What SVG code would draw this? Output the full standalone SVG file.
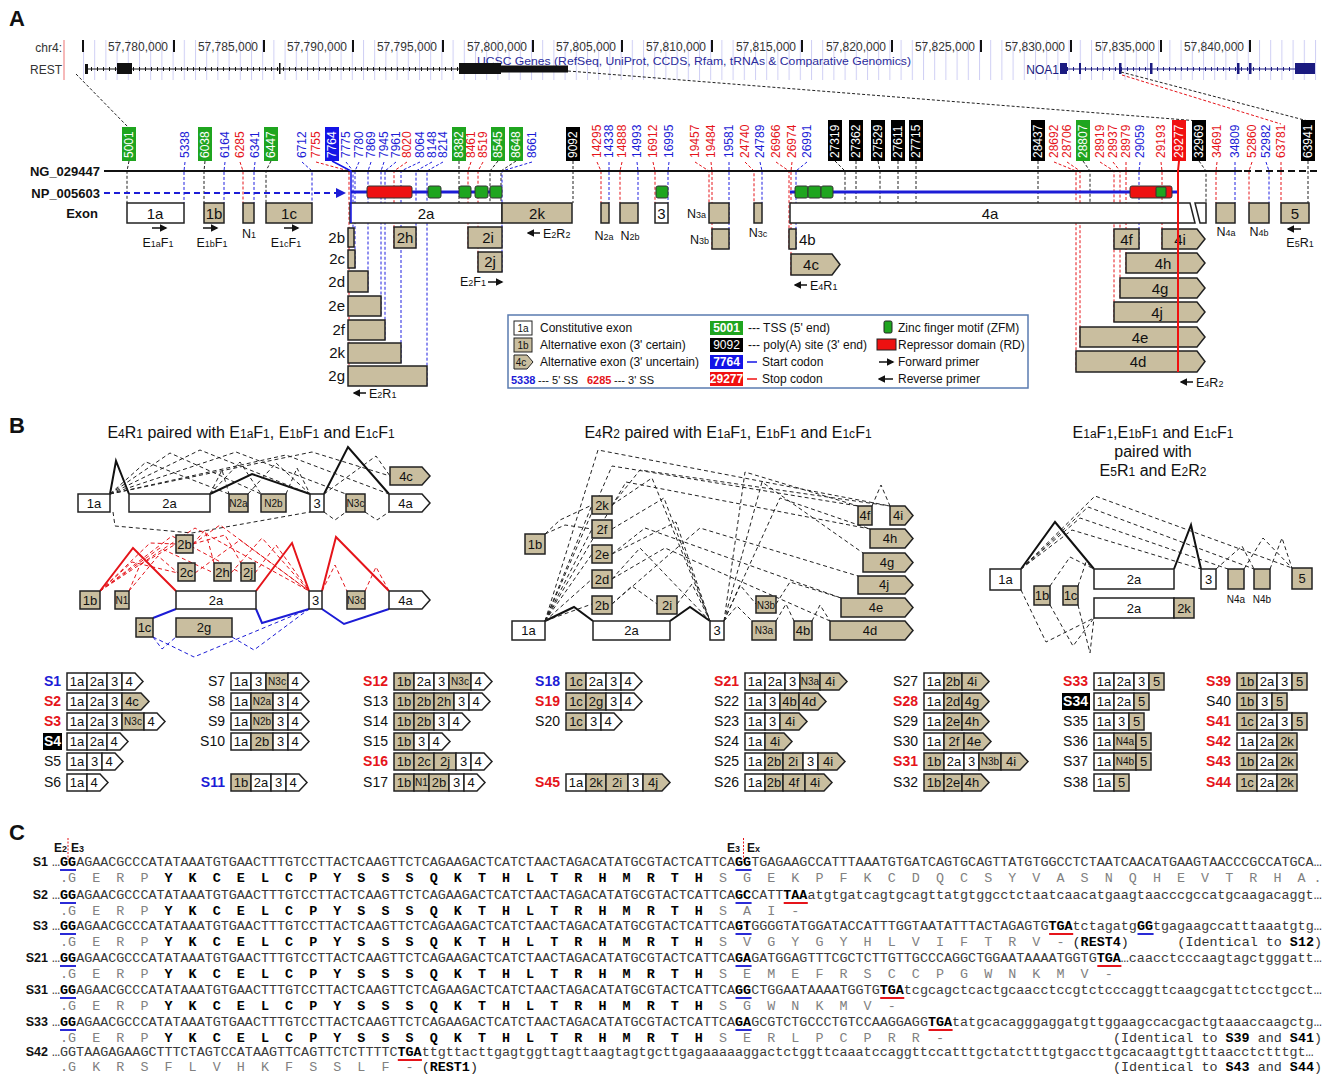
<svg xmlns="http://www.w3.org/2000/svg" width="1330" height="1075" viewBox="0 0 1330 1075">
<defs>
<style>
text{font-family:'Liberation Sans',Arial,sans-serif;fill:#111}
.pl{font-size:22px;font-weight:bold}
.ru{font-size:12px;fill:#333;text-anchor:end}
.n{font-size:12px}
.bl{fill:#1c1cd6}
.rd{fill:#e5141a}
.wt{fill:#fff}
.w{fill:#fff;stroke:#222;stroke-width:1.5}
.t{fill:#c9be9f;stroke:#222;stroke-width:1.5}
.el{font-size:15px;text-anchor:middle}
.ec{font-size:13px;text-anchor:middle}
.en{font-size:10px;text-anchor:middle}
.sm{font-size:9px}
.hd{font-size:13px;font-weight:bold;text-anchor:end}
.lg{font-size:12px}
.pr{font-size:12.5px}
.kd{stroke:#222;stroke-width:1;stroke-dasharray:3 2;fill:none}
.bd{stroke:#2020e0;stroke-width:1;stroke-dasharray:3 2;fill:none}
.rdd{stroke:#e5141a;stroke-width:1;stroke-dasharray:3 2;fill:none}
.ks{stroke:#111;stroke-width:2;fill:none}
.rs{stroke:#e5141a;stroke-width:2;fill:none}
.bs{stroke:#1c1cd6;stroke-width:2;fill:none}
.kd2{stroke:#222;stroke-width:1;stroke-dasharray:4 3;fill:none}
.rd2{stroke:#e5141a;stroke-width:1;stroke-dasharray:4 3;fill:none}
.bd2{stroke:#1c1cd6;stroke-width:1;stroke-dasharray:4 3;fill:none}
.arr{stroke:#111;stroke-width:1.5;fill:none;marker-end:url(#ah)}
.ttl{font-size:16px;text-anchor:middle}
.sl{font-size:14px;text-anchor:end}
.slb{font-size:14px;text-anchor:end;font-weight:bold}
.seq{font-family:'Liberation Mono','Courier New',monospace;font-size:13.4px;fill:#3a3a3a}
.aa{font-family:'Liberation Mono','Courier New',monospace;font-size:13.4px;fill:#808080}
.b{font-weight:bold;fill:#000}
.cl{font-size:12.5px;font-weight:bold;text-anchor:end}
.ubl{stroke:#2a2ad6;stroke-width:2}
.url{stroke:#e5141a;stroke-width:2}
</style>
<marker id="ah" viewBox="0 0 10 10" refX="8" refY="5" markerWidth="5" markerHeight="5" orient="auto"><path d="M0,0 L10,5 L0,10 z" fill="#111"/></marker>
<marker id="ahb" viewBox="0 0 10 10" refX="8" refY="5" markerWidth="5" markerHeight="5" orient="auto"><path d="M0,0 L10,5 L0,10 z" fill="#1c1cd6"/></marker>
<pattern id="grid" x="83" y="0" width="11.2" height="60" patternUnits="userSpaceOnUse"><line x1="0.5" y1="0" x2="0.5" y2="60" stroke="#cfcff4" stroke-width="1"/></pattern>
</defs>
<rect width="1330" height="1075" fill="#fff"/>

<!-- ================= PANEL A ================= -->
<text class="pl" x="9" y="26">A</text>
<g id="browser">
<rect x="80" y="40" width="1240" height="40" fill="url(#grid)"/>
<line x1="64" y1="40" x2="64" y2="80" stroke="#f08a8a" stroke-width="1.2"/>
<text class="ru" x="62" y="52">chr4:</text>
<text class="ru" x="62" y="74">REST</text>
<g fill="#111">
<rect x="82" y="40" width="2" height="12"/>
<rect x="173" y="40" width="2" height="12"/><rect x="263" y="40" width="2" height="12"/><rect x="352" y="40" width="2" height="12"/><rect x="442" y="40" width="2" height="12"/><rect x="532" y="40" width="2" height="12"/><rect x="621" y="40" width="2" height="12"/><rect x="711" y="40" width="2" height="12"/><rect x="801" y="40" width="2" height="12"/><rect x="891" y="40" width="2" height="12"/><rect x="980" y="40" width="2" height="12"/><rect x="1070" y="40" width="2" height="12"/><rect x="1160" y="40" width="2" height="12"/><rect x="1249" y="40" width="2" height="12"/>
</g>
<text class="ru" x="168" y="51">57,780,000</text>
<text class="ru" x="258" y="51">57,785,000</text>
<text class="ru" x="347" y="51">57,790,000</text>
<text class="ru" x="437" y="51">57,795,000</text>
<text class="ru" x="527" y="51">57,800,000</text>
<text class="ru" x="616" y="51">57,805,000</text>
<text class="ru" x="706" y="51">57,810,000</text>
<text class="ru" x="796" y="51">57,815,000</text>
<text class="ru" x="886" y="51">57,820,000</text>
<text class="ru" x="975" y="51">57,825,000</text>
<text class="ru" x="1065" y="51">57,830,000</text>
<text class="ru" x="1155" y="51">57,835,000</text>
<text class="ru" x="1244" y="51">57,840,000</text>
<text x="477" y="64.5" font-size="11.5" style="fill:#2c2c9c" textLength="434" lengthAdjust="spacingAndGlyphs">UCSC Genes (RefSeq, UniProt, CCDS, Rfam, tRNAs &amp; Comparative Genomics)</text>
<g id="rest-track">
<line x1="85" y1="69" x2="568" y2="69" stroke="#111" stroke-width="1"/>
<line x1="85" y1="69" x2="459" y2="69" stroke="#111" stroke-width="4" stroke-dasharray="1 5"/>
<rect x="85" y="64" width="3" height="10" fill="#111"/>
<rect x="117" y="63" width="15" height="11" fill="#111"/>
<rect x="279" y="63" width="1.5" height="11" fill="#111"/>
<rect x="459" y="63" width="42" height="11" fill="#111"/>
<rect x="501" y="65.5" width="67" height="7" fill="#111"/>
</g>
<g id="noa1-track">
<text x="1059" y="74" font-size="12" text-anchor="end" style="fill:#1a1a80">NOA1</text>
<line x1="1061" y1="69" x2="1315" y2="69" stroke="#1a1a80" stroke-width="1"/>
<line x1="1061" y1="69" x2="1295" y2="69" stroke="#1a1a80" stroke-width="4" stroke-dasharray="1 5"/>
<rect x="1060" y="63" width="7" height="11" fill="#1a1a80"/>
<rect x="1079" y="63" width="2" height="11" fill="#1a1a80"/>
<rect x="1119" y="63" width="2.5" height="11" fill="#1a1a80"/>
<rect x="1150" y="63" width="2.5" height="11" fill="#1a1a80"/>
<rect x="1237" y="63" width="2.5" height="11" fill="#1a1a80"/>
<rect x="1249" y="63" width="2.5" height="11" fill="#1a1a80"/>
<rect x="1295" y="63" width="20" height="11" fill="#1a1a80"/>
</g>
</g>

<g id="connectors-A">
<path class="kd" d="M76,74 L128,127"/>
<path class="kd" d="M568,71 L1199,121"/>
<path class="kd" d="M1121,72 L1308,121"/>
<path class="rdd" d="M1122,75 L1281,124"/>
<path class="kd" d="M129,161 L127,171 V203 M205,161 L204,171 V203 M271,161 L266,171 V203 M459,161 V203 M498,161 L490,171 V203 M516,161 L501,171 V203 M1083,161 L1090,171 V203 M573,161 V203 M835,161 L845,171 V203 M856,161 V203 M878,161 L880,171 V203 M898,161 V203 M916,161 V203 M1038,161 V203 M1199,161 L1206,171 V203 M1308,161 V203"/>
<path class="bd" d="M185,162 L184,171 V203 M225,162 L224,171 V203 M255,162 L254,171 V203 M302,162 L312,171 V203 M346,162 L353,171 V247 M359,162 L355,171 V268 M371,162 L368,171 V292 M384,162 L381,171 V316 M396,162 L385,171 V340 M420,162 L401,171 V363 M432,162 L416,171 V248 M443,162 L427,171 V386 M532,162 L502,171 V272 M609,162 V203 M637,162 L638,171 V203 M669,162 L668,171 V203 M729,162 V249 M760,162 L762,171 V203 M807,162 L796,171 V249 M1140,162 L1139,171 V249 M1235,162 V203 M1266,162 L1269,171 V203"/>
<path class="rdd" d="M240,162 L243,171 V203 M316,162 L349,171 V386 M407,162 L394,171 V248 M471,162 L468,171 V248 M483,162 L478,171 V272 M597,162 L601,171 V203 M622,162 L620,171 V203 M653,162 L655,171 V203 M695,162 L709,171 V203 M711,162 L712,171 V249 M745,162 L754,171 V203 M776,162 L789,171 V249 M792,162 L791,171 V275 M1054,162 L1076,171 V372 M1067,162 L1080,171 V347 M1100,162 L1114,171 V322 M1113,162 L1120,171 V298 M1126,162 V273 M1161,162 L1162,171 V249 M1217,162 L1216,171 V203 M1252,162 L1249,171 V203 M1281,162 V203"/>
</g>

<g id="labels-A">
<g fill="#1fa51f">
<rect x="122" y="127" width="14" height="34"/><rect x="198" y="127" width="14" height="34"/><rect x="264" y="127" width="14" height="34"/><rect x="452" y="127" width="14" height="34"/><rect x="491" y="127" width="14" height="34"/><rect x="509" y="127" width="14" height="34"/><rect x="1076" y="120" width="14" height="41"/>
</g>
<g fill="#000">
<rect x="566" y="127" width="14" height="34"/><rect x="828" y="120" width="14" height="41"/><rect x="849" y="120" width="14" height="41"/><rect x="871" y="120" width="14" height="41"/><rect x="891" y="120" width="14" height="41"/><rect x="909" y="120" width="14" height="41"/><rect x="1031" y="120" width="14" height="41"/><rect x="1192" y="120" width="14" height="41"/><rect x="1301" y="120" width="14" height="41"/>
</g>
<rect x="325" y="127" width="14" height="34" fill="#1414e6"/>
<rect x="1172" y="120" width="14" height="41" fill="#f01010"/>
<g class="n">
<text class="wt" transform="translate(129,158) rotate(-90)" dy="4">5001</text>
<text class="wt" transform="translate(205,158) rotate(-90)" dy="4">6038</text>
<text class="wt" transform="translate(271,158) rotate(-90)" dy="4">6447</text>
<text class="wt" transform="translate(459,158) rotate(-90)" dy="4">8382</text>
<text class="wt" transform="translate(498,158) rotate(-90)" dy="4">8545</text>
<text class="wt" transform="translate(516,158) rotate(-90)" dy="4">8648</text>
<text class="wt" transform="translate(1083,158) rotate(-90)" dy="4">28807</text>
<text class="wt" transform="translate(573,158) rotate(-90)" dy="4">9092</text>
<text class="wt" transform="translate(835,158) rotate(-90)" dy="4">27319</text>
<text class="wt" transform="translate(856,158) rotate(-90)" dy="4">27362</text>
<text class="wt" transform="translate(878,158) rotate(-90)" dy="4">27529</text>
<text class="wt" transform="translate(898,158) rotate(-90)" dy="4">27611</text>
<text class="wt" transform="translate(916,158) rotate(-90)" dy="4">27715</text>
<text class="wt" transform="translate(1038,158) rotate(-90)" dy="4">28437</text>
<text class="wt" transform="translate(1199,158) rotate(-90)" dy="4">32969</text>
<text class="wt" transform="translate(1308,158) rotate(-90)" dy="4">63941</text>
<text class="wt" transform="translate(332,158) rotate(-90)" dy="4">7764</text>
<text class="wt" transform="translate(1179,158) rotate(-90)" dy="4">29277</text>
<text class="bl" transform="translate(185,158) rotate(-90)" dy="4">5338</text>
<text class="bl" transform="translate(225,158) rotate(-90)" dy="4">6164</text>
<text class="bl" transform="translate(255,158) rotate(-90)" dy="4">6341</text>
<text class="bl" transform="translate(302,158) rotate(-90)" dy="4">6712</text>
<text class="bl" transform="translate(346,158) rotate(-90)" dy="4">7775</text>
<text class="bl" transform="translate(359,158) rotate(-90)" dy="4">7780</text>
<text class="bl" transform="translate(371,158) rotate(-90)" dy="4">7869</text>
<text class="bl" transform="translate(384,158) rotate(-90)" dy="4">7945</text>
<text class="bl" transform="translate(396,158) rotate(-90)" dy="4">7961</text>
<text class="bl" transform="translate(420,158) rotate(-90)" dy="4">8064</text>
<text class="bl" transform="translate(432,158) rotate(-90)" dy="4">8148</text>
<text class="bl" transform="translate(443,158) rotate(-90)" dy="4">8214</text>
<text class="bl" transform="translate(532,158) rotate(-90)" dy="4">8661</text>
<text class="bl" transform="translate(609,158) rotate(-90)" dy="4">14338</text>
<text class="bl" transform="translate(637,158) rotate(-90)" dy="4">14993</text>
<text class="bl" transform="translate(669,158) rotate(-90)" dy="4">16995</text>
<text class="bl" transform="translate(729,158) rotate(-90)" dy="4">19581</text>
<text class="bl" transform="translate(760,158) rotate(-90)" dy="4">24789</text>
<text class="bl" transform="translate(807,158) rotate(-90)" dy="4">26991</text>
<text class="bl" transform="translate(1140,158) rotate(-90)" dy="4">29059</text>
<text class="bl" transform="translate(1235,158) rotate(-90)" dy="4">34809</text>
<text class="bl" transform="translate(1266,158) rotate(-90)" dy="4">52982</text>
<text class="rd" transform="translate(240,158) rotate(-90)" dy="4">6285</text>
<text class="rd" transform="translate(316,158) rotate(-90)" dy="4">7755</text>
<text class="rd" transform="translate(407,158) rotate(-90)" dy="4">8020</text>
<text class="rd" transform="translate(471,158) rotate(-90)" dy="4">8461</text>
<text class="rd" transform="translate(483,158) rotate(-90)" dy="4">8519</text>
<text class="rd" transform="translate(597,158) rotate(-90)" dy="4">14295</text>
<text class="rd" transform="translate(622,158) rotate(-90)" dy="4">14888</text>
<text class="rd" transform="translate(653,158) rotate(-90)" dy="4">16912</text>
<text class="rd" transform="translate(695,158) rotate(-90)" dy="4">19457</text>
<text class="rd" transform="translate(711,158) rotate(-90)" dy="4">19484</text>
<text class="rd" transform="translate(745,158) rotate(-90)" dy="4">24740</text>
<text class="rd" transform="translate(776,158) rotate(-90)" dy="4">26966</text>
<text class="rd" transform="translate(792,158) rotate(-90)" dy="4">26974</text>
<text class="rd" transform="translate(1054,158) rotate(-90)" dy="4">28692</text>
<text class="rd" transform="translate(1067,158) rotate(-90)" dy="4">28706</text>
<text class="rd" transform="translate(1100,158) rotate(-90)" dy="4">28919</text>
<text class="rd" transform="translate(1113,158) rotate(-90)" dy="4">28937</text>
<text class="rd" transform="translate(1126,158) rotate(-90)" dy="4">28979</text>
<text class="rd" transform="translate(1161,158) rotate(-90)" dy="4">29193</text>
<text class="rd" transform="translate(1217,158) rotate(-90)" dy="4">34691</text>
<text class="rd" transform="translate(1252,158) rotate(-90)" dy="4">52860</text>
<text class="rd" transform="translate(1281,158) rotate(-90)" dy="4">63781</text>
</g>
</g>

<g id="ng-line">
<text class="hd" x="100" y="176">NG_029447</text>
<line x1="104" y1="171" x2="1242" y2="171" stroke="#111" stroke-width="2"/>
<line x1="1244" y1="171" x2="1320" y2="171" stroke="#111" stroke-width="2" stroke-dasharray="7 4"/>
</g>
<g id="np-line">
<text class="hd" x="100" y="198">NP_005603</text>
<line x1="104" y1="193" x2="344" y2="193" stroke="#1c1cd6" stroke-width="2" stroke-dasharray="6 4" marker-end="url(#ahb)"/>
<line x1="351" y1="192" x2="502" y2="192" stroke="#1c1cd6" stroke-width="3"/>
<line x1="790" y1="192" x2="1178" y2="192" stroke="#1c1cd6" stroke-width="3"/>
<g stroke="#333" stroke-width="1">
<rect x="367" y="186" width="45" height="12" rx="2" fill="#ee1111"/>
<rect x="428" y="186" width="13" height="12" rx="2" fill="#1fa51f"/>
<rect x="459" y="186" width="12" height="12" rx="2" fill="#1fa51f"/>
<rect x="475" y="186" width="13" height="12" rx="2" fill="#1fa51f"/>
<rect x="490" y="186" width="12" height="12" rx="2" fill="#1fa51f"/>
<rect x="656" y="186" width="12" height="12" rx="2" fill="#1fa51f"/>
<rect x="795" y="186" width="13" height="12" rx="2" fill="#1fa51f"/>
<rect x="808" y="186" width="13" height="12" rx="2" fill="#1fa51f"/>
<rect x="821" y="186" width="12" height="12" rx="2" fill="#1fa51f"/>
<rect x="1130" y="186" width="42" height="12" rx="2" fill="#ee1111"/>
<rect x="1156" y="187" width="10" height="10" rx="1" fill="#1fa51f"/>
</g>
</g>

<g id="exons-A">
<text class="hd" x="98" y="218">Exon</text>
<g id="e1a"><rect class="w" x="127" y="203" width="57" height="20"/><text class="el" x="155" y="219">1a</text></g>
<g id="e1b"><rect class="t" x="204" y="203" width="20" height="20"/><text class="el" x="214" y="219">1b</text></g>
<g id="eN1"><rect class="t" x="243" y="203" width="11" height="20"/></g>
<g id="e1c"><rect class="t" x="266" y="203" width="46" height="20"/><text class="el" x="289" y="219">1c</text></g>
<g id="e2a"><rect class="w" x="350" y="203" width="152" height="20"/><text class="el" x="426" y="219">2a</text></g>
<g id="e2k"><rect class="t" x="502" y="203" width="70" height="20"/><text class="el" x="537" y="219">2k</text></g>
<g id="eN2a"><rect class="t" x="601" y="203" width="8" height="20"/></g>
<g id="eN2b"><rect class="t" x="620" y="203" width="18" height="20"/></g>
<g id="e3"><rect class="w" x="655" y="203" width="13" height="20"/><text class="el" x="661.5" y="219">3</text></g>
<g id="eN3a"><rect class="t" x="709" y="203" width="20" height="20"/><text class="pr" x="706" y="218" text-anchor="end">N<tspan class="sm">3a</tspan></text></g>
<g id="eN3c"><rect class="t" x="754" y="203" width="8" height="20"/></g>
<g id="e4a"><path class="w" d="M790,203 H1190 L1195,223 H790 Z"/><path class="w" d="M1195,203 H1206 V223 H1200 Z"/><text class="el" x="990" y="219">4a</text></g>
<g id="eN4a"><rect class="t" x="1216" y="203" width="19" height="20"/></g>
<g id="eN4b"><rect class="t" x="1249" y="203" width="20" height="20"/></g>
<g id="e5"><rect class="t" x="1281" y="203" width="28" height="20"/><text class="el" x="1295" y="219">5</text></g>

<g id="e2b"><rect class="t" x="348" y="228" width="6" height="19"/><text class="el" x="345" y="243" style="text-anchor:end">2b</text></g>
<g id="e2c"><rect class="t" x="348" y="250" width="7" height="18"/><text class="el" x="345" y="264" style="text-anchor:end">2c</text></g>
<g id="e2d"><rect class="t" x="348" y="271" width="20" height="21"/><text class="el" x="345" y="287" style="text-anchor:end">2d</text></g>
<g id="e2e"><rect class="t" x="348" y="296" width="33" height="20"/><text class="el" x="345" y="311" style="text-anchor:end">2e</text></g>
<g id="e2f"><rect class="t" x="348" y="320" width="37" height="20"/><text class="el" x="345" y="335" style="text-anchor:end">2f</text></g>
<g id="e2k2"><rect class="t" x="348" y="343" width="53" height="20"/><text class="el" x="345" y="358" style="text-anchor:end">2k</text></g>
<g id="e2g"><rect class="t" x="348" y="366" width="79" height="20"/><text class="el" x="345" y="381" style="text-anchor:end">2g</text></g>
<g id="e2h"><rect class="t" x="394" y="227" width="22" height="21"/><text class="el" x="405" y="243">2h</text></g>
<g id="e2i"><rect class="t" x="468" y="227" width="34" height="21"/><text class="el" x="488" y="243">2i</text></g>
<g id="e2j"><rect class="t" x="478" y="252" width="24" height="20"/><text class="el" x="490" y="267">2j</text></g>
<g id="eN3b"><rect class="t" x="712" y="229" width="17" height="20"/><text class="pr" x="709" y="244" text-anchor="end">N<tspan class="sm">3b</tspan></text></g>
<g id="e4b"><rect class="t" x="789" y="229" width="7" height="20"/><text class="el" x="799" y="245" style="text-anchor:start">4b</text></g>
<g id="e4c"><path class="t" d="M791,254 H832 L840,264.5 L832,275 H791 Z"/><text class="el" x="811" y="270">4c</text></g>
<g id="e4f"><rect class="t" x="1114" y="229" width="25" height="20"/><text class="el" x="1126.5" y="245">4f</text></g>
<g id="e4i"><path class="t" d="M1162,229 H1197 L1205,239 L1197,249 H1162 Z"/><text class="el" x="1180" y="245">4i</text></g>
<g id="e4h"><path class="t" d="M1126,253 H1197 L1205,263 L1197,273 H1126 Z"/><text class="el" x="1163" y="269">4h</text></g>
<g id="e4g"><path class="t" d="M1120,278 H1197 L1205,288 L1197,298 H1120 Z"/><text class="el" x="1160" y="294">4g</text></g>
<g id="e4j"><path class="t" d="M1114,302 H1197 L1205,312 L1197,322 H1114 Z"/><text class="el" x="1157" y="318">4j</text></g>
<g id="e4e"><path class="t" d="M1080,327 H1197 L1205,337 L1197,347 H1080 Z"/><text class="el" x="1140" y="343">4e</text></g>
<g id="e4d"><path class="t" d="M1076,351 H1197 L1205,361.5 L1197,372 H1076 Z"/><text class="el" x="1138" y="367">4d</text></g>
</g>

<g id="connectors-A-top">
<path d="M332,161 L351,171 V223" stroke="#1414e6" stroke-width="1.5" fill="none"/>
<path d="M1179,161 L1178,171 V372" stroke="#f01010" stroke-width="2" fill="none"/>
</g>

<g id="primers-A">
<text class="pr" x="249" y="238" text-anchor="middle">N<tspan class="sm">1</tspan></text>
<text class="pr" x="604" y="240" text-anchor="middle">N<tspan class="sm">2a</tspan></text>
<text class="pr" x="630" y="240" text-anchor="middle">N<tspan class="sm">2b</tspan></text>
<text class="pr" x="758" y="237" text-anchor="middle">N<tspan class="sm">3c</tspan></text>
<text class="pr" x="1226" y="236" text-anchor="middle">N<tspan class="sm">4a</tspan></text>
<text class="pr" x="1259" y="236" text-anchor="middle">N<tspan class="sm">4b</tspan></text>
<path class="arr" d="M152,228 H166"/><text class="pr" x="158" y="247" text-anchor="middle">E<tspan class="sm">1a</tspan>F<tspan class="sm">1</tspan></text>
<path class="arr" d="M203,228 H217"/><text class="pr" x="212" y="247" text-anchor="middle">E<tspan class="sm">1b</tspan>F<tspan class="sm">1</tspan></text>
<path class="arr" d="M284,228 H298"/><text class="pr" x="286" y="247" text-anchor="middle">E<tspan class="sm">1c</tspan>F<tspan class="sm">1</tspan></text>
<path class="arr" d="M366,393 H354"/><text class="pr" x="369" y="398">E<tspan class="sm">2</tspan>R<tspan class="sm">1</tspan></text>
<text class="pr" x="460" y="286">E<tspan class="sm">2</tspan>F<tspan class="sm">1</tspan></text><path class="arr" d="M488,282 H502"/>
<path class="arr" d="M540,233 H528"/><text class="pr" x="543" y="238">E<tspan class="sm">2</tspan>R<tspan class="sm">2</tspan></text>
<path class="arr" d="M807,285 H795"/><text class="pr" x="810" y="290">E<tspan class="sm">4</tspan>R<tspan class="sm">1</tspan></text>
<path class="arr" d="M1193,382 H1181"/><text class="pr" x="1196" y="387">E<tspan class="sm">4</tspan>R<tspan class="sm">2</tspan></text>
<path class="arr" d="M1301,229 H1288"/><text class="pr" x="1300" y="247" text-anchor="middle">E<tspan class="sm">5</tspan>R<tspan class="sm">1</tspan></text>
</g>

<g id="legend">
<rect x="508" y="315" width="520" height="73" fill="#fff" stroke="#5a7bb0" stroke-width="1.5"/>
<rect class="w" x="514" y="321" width="18" height="14" style="stroke-width:1"/><text class="en" x="523" y="332">1a</text><text class="lg" x="540" y="332">Constitutive exon</text>
<rect class="t" x="514" y="338" width="18" height="14" style="stroke-width:1"/><text class="en" x="523" y="349">1b</text><text class="lg" x="540" y="349">Alternative exon (3' certain)</text>
<path class="t" d="M514,355 H527 L533,362 L527,369 H514 Z" style="stroke-width:1"/><text class="en" x="521" y="366">4c</text><text class="lg" x="540" y="366">Alternative exon (3' uncertain)</text>
<text x="511" y="384" font-size="11" font-weight="bold" style="fill:#1c1cd6">5338</text><text x="538" y="384" font-size="11">--- 5' SS</text>
<text x="587" y="384" font-size="11" font-weight="bold" style="fill:#e5141a">6285</text><text x="614" y="384" font-size="11">--- 3' SS</text>
<rect x="710" y="321" width="33" height="14" fill="#1fa51f"/><text class="lg" x="726.5" y="332" text-anchor="middle" font-weight="bold" style="fill:#fff">5001</text><text class="lg" x="748" y="332">--- TSS (5' end)</text>
<rect x="710" y="338" width="33" height="14" fill="#000"/><text class="lg" x="726.5" y="349" text-anchor="middle" style="fill:#fff">9092</text><text class="lg" x="748" y="349">--- poly(A) site (3' end)</text>
<rect x="710" y="355" width="33" height="14" fill="#1414e6"/><text class="lg" x="726.5" y="366" text-anchor="middle" font-weight="bold" style="fill:#fff">7764</text><line x1="747" y1="362" x2="757" y2="362" stroke="#1414e6" stroke-width="1.5"/><text class="lg" x="762" y="366">Start codon</text>
<rect x="710" y="372" width="33" height="14" fill="#f01010"/><text class="lg" x="726.5" y="383" text-anchor="middle" font-weight="bold" style="fill:#fff">29277</text><line x1="747" y1="379" x2="757" y2="379" stroke="#f01010" stroke-width="1.5"/><text class="lg" x="762" y="383">Stop codon</text>
<rect x="884" y="321" width="8" height="12" rx="1.5" fill="#1fa51f" stroke="#222" stroke-width="1"/><text class="lg" x="898" y="332">Zinc finger motif (ZFM)</text>
<rect x="877" y="339" width="19" height="11" fill="#ee1111" stroke="#222" stroke-width="1"/><text class="lg" x="898" y="349">Repressor domain (RD)</text>
<path class="arr" d="M879,362 H893"/><text class="lg" x="898" y="366">Forward primer</text>
<path class="arr" d="M893,379 H879"/><text class="lg" x="898" y="383">Reverse primer</text>
</g>

<!-- ================= PANEL B ================= -->
<text class="pl" x="9" y="433">B</text>
<text class="ttl" x="251" y="438">E<tspan font-size="12">4</tspan>R<tspan font-size="12">1</tspan> paired with E<tspan font-size="12">1a</tspan>F<tspan font-size="12">1</tspan>, E<tspan font-size="12">1b</tspan>F<tspan font-size="12">1</tspan> and E<tspan font-size="12">1c</tspan>F<tspan font-size="12">1</tspan></text>
<text class="ttl" x="728" y="438">E<tspan font-size="12">4</tspan>R<tspan font-size="12">2</tspan> paired with E<tspan font-size="12">1a</tspan>F<tspan font-size="12">1</tspan>, E<tspan font-size="12">1b</tspan>F<tspan font-size="12">1</tspan> and E<tspan font-size="12">1c</tspan>F<tspan font-size="12">1</tspan></text>
<text class="ttl" x="1153" y="438">E<tspan font-size="12">1a</tspan>F<tspan font-size="12">1</tspan>,E<tspan font-size="12">1b</tspan>F<tspan font-size="12">1</tspan> and E<tspan font-size="12">1c</tspan>F<tspan font-size="12">1</tspan></text>
<text class="ttl" x="1153" y="457">paired with</text>
<text class="ttl" x="1153" y="476">E<tspan font-size="12">5</tspan>R<tspan font-size="12">1</tspan> and E<tspan font-size="12">2</tspan>R<tspan font-size="12">2</tspan></text>

<g id="connectors-B">
<path class="ks" d="M110,494 L116,461 L129,494 M210,494 L252,474 L310,494 M324,494 L348,447 L389,494"/>
<path class="kd2" d="M110,494 L146,462 L229,494 M110,494 L170,453 L261,494 M110,494 L200,450 L310,494 M110,494 L236,452 L346,494 M110,494 L286,455 L389,494 M110,494 L312,452 L390,476 M248,494 L276,463 L310,494 M286,494 L297,468 L310,494 M210,494 L222,470 L229,494 M210,494 L240,462 L261,494 M324,494 L376,456 L390,476 M324,512 L335,520 L346,512 M365,512 L377,520 L389,512 M113,512 L115,526 L192,533 L310,512"/>
<path class="rs" d="M100,591 L133,548 L176,591 M256,591 L292,543 L309,591 M322,591 L336,537 L389,591"/>
<path class="rd2" d="M100,591 L132,562 L178,573 M100,591 L160,548 L214,573 M100,591 L172,536 L241,573 M100,591 L150,543 L176,544 M100,591 L195,528 L309,591 M129,591 L140,565 L176,544 M129,591 L158,556 L178,573 M193,544 L220,525 L309,591 M195,573 L240,540 L309,591 M231,573 L262,538 L309,591 M255,573 L276,545 L309,591 M193,544 L205,530 L214,563 M193,544 L225,535 L241,563 M322,591 L335,565 L347,591 M365,591 L376,567 L389,591"/>
<path class="bs" d="M153,618 L176,609 M256,609 L262,623 L309,609 M322,609 L344,624 L389,609"/>
<path class="bd2" d="M153,637 L162,649 L176,637 M153,637 L194,657 L309,609 M232,637 L254,650 L309,609"/>
<path class="ks" d="M545,621 L574,607 L593,621 M670,621 L690,607 L710,621"/>
<path class="kd2" d="M545,621 L598,450 L890,506 M545,621 L612,466 L858,506 M545,621 L626,482 L870,529 M545,621 L592,505 M545,621 L592,529 M545,621 L592,554 M545,621 L592,579 M545,621 L592,604 M545,534 L560,520 L592,505 M545,534 L565,525 L592,529 M612,505 L652,478 L710,621 M612,529 L664,498 L710,621 M612,554 L676,522 L710,621 M612,579 L640,548 L710,621 M612,604 L632,586 L657,604 M677,604 L692,584 L710,621 M612,604 L700,528 L858,576 M612,554 L645,528 L841,598 M612,579 L665,548 L830,621 M724,621 L745,472 L858,506 M724,621 L762,482 L863,553 M724,621 L780,498 L870,529 M724,621 L740,585 L756,604 M724,621 L737,606 L752,621 M776,604 L790,582 L841,598 M776,621 L786,604 L794,621 M812,621 L820,605 L830,621 M872,506 L881,485 L890,506 M612,505 L640,470 L890,506"/>
<path class="ks" d="M1021,569 L1055,522 L1094,569 M1174,569 L1191,525 L1201,569"/>
<path class="kd2" d="M1021,569 L1095,496 L1292,568 M1021,569 L1088,507 L1254,569 M1021,569 L1080,518 L1228,569 M1021,569 L1072,530 L1201,569 M1216,569 L1242,546 L1254,569 M1244,569 L1263,538 L1292,568 M1270,569 L1282,538 L1292,568 M1021,590 L1046,642 L1094,618 M1050,586 L1070,557 L1094,569 M1078,586 L1086,562 L1094,569 M1050,605 L1073,646 L1094,618 M1078,605 L1090,653 L1094,618"/>
</g>

<g id="nodes-B1">
<g><rect class="w" x="78" y="494" width="32" height="18"/><text class="ec" x="94" y="508">1a</text></g>
<g><rect class="w" x="129" y="494" width="81" height="18"/><text class="ec" x="169.5" y="508">2a</text></g>
<g><rect class="t" x="229" y="494" width="19" height="18"/><text class="en" x="238.5" y="507">N2a</text></g>
<g><rect class="t" x="261" y="494" width="25" height="18"/><text class="en" x="273.5" y="507">N2b</text></g>
<g><rect class="w" x="310" y="494" width="14" height="18"/><text class="ec" x="317" y="508">3</text></g>
<g><rect class="t" x="346" y="494" width="19" height="18"/><text class="en" x="355.5" y="507">N3c</text></g>
<g><path class="w" d="M389,494 H422 L430,503 L422,512 H389 Z"/><text class="ec" x="405.5" y="508">4a</text></g>
<g><path class="t" d="M390,467 H422 L430,476 L422,485 H390 Z"/><text class="ec" x="406" y="481">4c</text></g>
<g><rect class="t" x="80" y="591" width="20" height="18"/><text class="ec" x="90" y="605">1b</text></g>
<g><rect class="t" x="115" y="591" width="14" height="18"/><text class="en" x="122" y="604">N1</text></g>
<g><rect class="w" x="176" y="591" width="80" height="18"/><text class="ec" x="216" y="605">2a</text></g>
<g><rect class="w" x="309" y="591" width="13" height="18"/><text class="ec" x="315.5" y="605">3</text></g>
<g><rect class="t" x="347" y="591" width="18" height="18"/><text class="en" x="356" y="604">N3c</text></g>
<g><path class="w" d="M389,591 H422 L430,600 L422,609 H389 Z"/><text class="ec" x="405.5" y="605">4a</text></g>
<g><rect class="t" x="176" y="535" width="17" height="18"/><text class="ec" x="184.5" y="549">2b</text></g>
<g><rect class="t" x="178" y="563" width="17" height="18"/><text class="ec" x="186.5" y="577">2c</text></g>
<g><rect class="t" x="214" y="563" width="17" height="18"/><text class="ec" x="222.5" y="577">2h</text></g>
<g><rect class="t" x="241" y="563" width="14" height="18"/><text class="ec" x="248" y="577">2j</text></g>
<g><rect class="t" x="136" y="618" width="17" height="19"/><text class="ec" x="144.5" y="632">1c</text></g>
<g><rect class="t" x="176" y="618" width="56" height="19"/><text class="ec" x="204" y="632">2g</text></g>
</g>

<g id="nodes-B2">
<g><rect class="t" x="525" y="534" width="20" height="20"/><text class="ec" x="535" y="549">1b</text></g>
<g><rect class="w" x="512" y="621" width="33" height="19"/><text class="ec" x="528.5" y="635">1a</text></g>
<g><rect class="t" x="592" y="496" width="20" height="18"/><text class="ec" x="602" y="510">2k</text></g>
<g><rect class="t" x="592" y="520" width="20" height="18"/><text class="ec" x="602" y="534">2f</text></g>
<g><rect class="t" x="592" y="545" width="20" height="18"/><text class="ec" x="602" y="559">2e</text></g>
<g><rect class="t" x="592" y="570" width="20" height="18"/><text class="ec" x="602" y="584">2d</text></g>
<g><rect class="t" x="592" y="596" width="20" height="18"/><text class="ec" x="602" y="610">2b</text></g>
<g><rect class="w" x="593" y="621" width="77" height="19"/><text class="ec" x="631.5" y="635">2a</text></g>
<g><rect class="t" x="657" y="596" width="20" height="18"/><text class="ec" x="667" y="610">2i</text></g>
<g><rect class="w" x="710" y="621" width="14" height="19"/><text class="ec" x="717" y="635">3</text></g>
<g><rect class="t" x="756" y="596" width="20" height="17"/><text class="en" x="766" y="609">N3b</text></g>
<g><rect class="t" x="752" y="621" width="24" height="19"/><text class="en" x="764" y="634">N3a</text></g>
<g><rect class="t" x="794" y="621" width="18" height="19"/><text class="ec" x="803" y="635">4b</text></g>
<g><rect class="t" x="858" y="506" width="14" height="19"/><text class="ec" x="865" y="520">4f</text></g>
<g><path class="t" d="M890,506 H905 L913,515.5 L905,525 H890 Z"/><text class="ec" x="898" y="520">4i</text></g>
<g><path class="t" d="M870,529 H905 L913,538.5 L905,548 H870 Z"/><text class="ec" x="890" y="543">4h</text></g>
<g><path class="t" d="M863,553 H905 L913,562.5 L905,572 H863 Z"/><text class="ec" x="887" y="567">4g</text></g>
<g><path class="t" d="M858,576 H905 L913,585 L905,594 H858 Z"/><text class="ec" x="884" y="589">4j</text></g>
<g><path class="t" d="M841,598 H905 L913,607.5 L905,617 H841 Z"/><text class="ec" x="876" y="612">4e</text></g>
<g><path class="t" d="M830,621 H905 L913,630.5 L905,640 H830 Z"/><text class="ec" x="870" y="635">4d</text></g>
</g>

<g id="nodes-B3">
<g><rect class="w" x="990" y="569" width="31" height="21"/><text class="ec" x="1005.5" y="584">1a</text></g>
<g><rect class="t" x="1034" y="586" width="16" height="19"/><text class="ec" x="1042" y="600">1b</text></g>
<g><rect class="t" x="1063" y="586" width="15" height="19"/><text class="ec" x="1070.5" y="600">1c</text></g>
<g><rect class="w" x="1094" y="569" width="80" height="20"/><text class="ec" x="1134" y="584">2a</text></g>
<g><rect class="w" x="1094" y="598" width="80" height="20"/><text class="ec" x="1134" y="613">2a</text><rect class="t" x="1174" y="598" width="20" height="20"/><text class="ec" x="1184" y="613">2k</text></g>
<g><rect class="w" x="1201" y="569" width="15" height="20"/><text class="ec" x="1208.5" y="584">3</text></g>
<g><rect class="t" x="1228" y="569" width="16" height="20"/><text class="en" x="1236" y="603">N4a</text></g>
<g><rect class="t" x="1254" y="569" width="16" height="20"/><text class="en" x="1262" y="603">N4b</text></g>
<g><rect class="t" x="1292" y="568" width="20" height="21"/><text class="ec" x="1302" y="583">5</text></g>
</g>

<g id="isoform-table">
<text class="slb" x="61" y="686" style="fill:#1c1cd6">S1</text>
<rect class="w" x="67" y="673" width="20" height="17"/><text class="ec" x="77" y="686">1a</text><rect class="w" x="87" y="673" width="20" height="17"/><text class="ec" x="97" y="686">2a</text><rect class="w" x="107" y="673" width="15" height="17"/><text class="ec" x="114.5" y="686">3</text><path class="w" d="M122,673 h13 l8,8.5 l-8,8.5 h-13 z"/><text class="ec" x="129" y="686">4</text>
<text class="slb" x="61" y="706" style="fill:#e5141a">S2</text>
<rect class="w" x="67" y="693" width="20" height="17"/><text class="ec" x="77" y="706">1a</text><rect class="w" x="87" y="693" width="20" height="17"/><text class="ec" x="97" y="706">2a</text><rect class="w" x="107" y="693" width="15" height="17"/><text class="ec" x="114.5" y="706">3</text><path class="t" d="M122,693 h19 l8,8.5 l-8,8.5 h-19 z"/><text class="ec" x="132" y="706">4c</text>
<text class="slb" x="61" y="726" style="fill:#e5141a">S3</text>
<rect class="w" x="67" y="713" width="20" height="17"/><text class="ec" x="77" y="726">1a</text><rect class="w" x="87" y="713" width="20" height="17"/><text class="ec" x="97" y="726">2a</text><rect class="w" x="107" y="713" width="15" height="17"/><text class="ec" x="114.5" y="726">3</text><rect class="t" x="122" y="713" width="22" height="17"/><text class="en" x="133" y="725">N3c</text><path class="w" d="M144,713 h13 l8,8.5 l-8,8.5 h-13 z"/><text class="ec" x="151" y="726">4</text>
<rect x="43" y="733" width="19" height="17" fill="#000"/><text class="slb" x="61" y="746" style="fill:#fff">S4</text>
<rect class="w" x="67" y="733" width="20" height="17"/><text class="ec" x="77" y="746">1a</text><rect class="w" x="87" y="733" width="20" height="17"/><text class="ec" x="97" y="746">2a</text><path class="w" d="M107,733 h13 l8,8.5 l-8,8.5 h-13 z"/><text class="ec" x="114" y="746">4</text>
<text class="sl" x="61" y="766">S5</text>
<rect class="w" x="67" y="753" width="20" height="17"/><text class="ec" x="77" y="766">1a</text><rect class="w" x="87" y="753" width="15" height="17"/><text class="ec" x="94.5" y="766">3</text><path class="w" d="M102,753 h13 l8,8.5 l-8,8.5 h-13 z"/><text class="ec" x="109" y="766">4</text>
<text class="sl" x="61" y="787">S6</text>
<rect class="w" x="67" y="774" width="20" height="17"/><text class="ec" x="77" y="787">1a</text><path class="w" d="M87,774 h13 l8,8.5 l-8,8.5 h-13 z"/><text class="ec" x="94" y="787">4</text>
<text class="sl" x="225" y="686">S7</text>
<rect class="w" x="231" y="673" width="20" height="17"/><text class="ec" x="241" y="686">1a</text><rect class="w" x="251" y="673" width="15" height="17"/><text class="ec" x="258.5" y="686">3</text><rect class="t" x="266" y="673" width="22" height="17"/><text class="en" x="277" y="685">N3c</text><path class="w" d="M288,673 h13 l8,8.5 l-8,8.5 h-13 z"/><text class="ec" x="295" y="686">4</text>
<text class="sl" x="225" y="706">S8</text>
<rect class="w" x="231" y="693" width="20" height="17"/><text class="ec" x="241" y="706">1a</text><rect class="t" x="251" y="693" width="22" height="17"/><text class="en" x="262" y="705">N2a</text><rect class="w" x="273" y="693" width="15" height="17"/><text class="ec" x="280.5" y="706">3</text><path class="w" d="M288,693 h13 l8,8.5 l-8,8.5 h-13 z"/><text class="ec" x="295" y="706">4</text>
<text class="sl" x="225" y="726">S9</text>
<rect class="w" x="231" y="713" width="20" height="17"/><text class="ec" x="241" y="726">1a</text><rect class="t" x="251" y="713" width="22" height="17"/><text class="en" x="262" y="725">N2b</text><rect class="w" x="273" y="713" width="15" height="17"/><text class="ec" x="280.5" y="726">3</text><path class="w" d="M288,713 h13 l8,8.5 l-8,8.5 h-13 z"/><text class="ec" x="295" y="726">4</text>
<text class="sl" x="225" y="746">S10</text>
<rect class="w" x="231" y="733" width="20" height="17"/><text class="ec" x="241" y="746">1a</text><rect class="t" x="251" y="733" width="22" height="17"/><text class="ec" x="262" y="746">2b</text><rect class="w" x="273" y="733" width="15" height="17"/><text class="ec" x="280.5" y="746">3</text><path class="w" d="M288,733 h13 l8,8.5 l-8,8.5 h-13 z"/><text class="ec" x="295" y="746">4</text>
<text class="slb" x="225" y="787" style="fill:#1c1cd6">S11</text>
<rect class="t" x="231" y="774" width="20" height="17"/><text class="ec" x="241" y="787">1b</text><rect class="w" x="251" y="774" width="20" height="17"/><text class="ec" x="261" y="787">2a</text><rect class="w" x="271" y="774" width="15" height="17"/><text class="ec" x="278.5" y="787">3</text><path class="w" d="M286,774 h13 l8,8.5 l-8,8.5 h-13 z"/><text class="ec" x="293" y="787">4</text>
<text class="slb" x="388" y="686" style="fill:#e5141a">S12</text>
<rect class="t" x="394" y="673" width="20" height="17"/><text class="ec" x="404" y="686">1b</text><rect class="w" x="414" y="673" width="20" height="17"/><text class="ec" x="424" y="686">2a</text><rect class="w" x="434" y="673" width="15" height="17"/><text class="ec" x="441.5" y="686">3</text><rect class="t" x="449" y="673" width="22" height="17"/><text class="en" x="460" y="685">N3c</text><path class="w" d="M471,673 h13 l8,8.5 l-8,8.5 h-13 z"/><text class="ec" x="478" y="686">4</text>
<text class="sl" x="388" y="706">S13</text>
<rect class="t" x="394" y="693" width="20" height="17"/><text class="ec" x="404" y="706">1b</text><rect class="t" x="414" y="693" width="20" height="17"/><text class="ec" x="424" y="706">2b</text><rect class="t" x="434" y="693" width="20" height="17"/><text class="ec" x="444" y="706">2h</text><rect class="w" x="454" y="693" width="15" height="17"/><text class="ec" x="461.5" y="706">3</text><path class="w" d="M469,693 h13 l8,8.5 l-8,8.5 h-13 z"/><text class="ec" x="476" y="706">4</text>
<text class="sl" x="388" y="726">S14</text>
<rect class="t" x="394" y="713" width="20" height="17"/><text class="ec" x="404" y="726">1b</text><rect class="t" x="414" y="713" width="20" height="17"/><text class="ec" x="424" y="726">2b</text><rect class="w" x="434" y="713" width="15" height="17"/><text class="ec" x="441.5" y="726">3</text><path class="w" d="M449,713 h13 l8,8.5 l-8,8.5 h-13 z"/><text class="ec" x="456" y="726">4</text>
<text class="sl" x="388" y="746">S15</text>
<rect class="t" x="394" y="733" width="20" height="17"/><text class="ec" x="404" y="746">1b</text><rect class="w" x="414" y="733" width="15" height="17"/><text class="ec" x="421.5" y="746">3</text><path class="w" d="M429,733 h13 l8,8.5 l-8,8.5 h-13 z"/><text class="ec" x="436" y="746">4</text>
<text class="slb" x="388" y="766" style="fill:#e5141a">S16</text>
<rect class="t" x="394" y="753" width="20" height="17"/><text class="ec" x="404" y="766">1b</text><rect class="t" x="414" y="753" width="20" height="17"/><text class="ec" x="424" y="766">2c</text><rect class="t" x="434" y="753" width="22" height="17"/><text class="ec" x="445" y="766">2j</text><rect class="w" x="456" y="753" width="15" height="17"/><text class="ec" x="463.5" y="766">3</text><path class="w" d="M471,753 h13 l8,8.5 l-8,8.5 h-13 z"/><text class="ec" x="478" y="766">4</text>
<text class="sl" x="388" y="787">S17</text>
<rect class="t" x="394" y="774" width="20" height="17"/><text class="ec" x="404" y="787">1b</text><rect class="t" x="414" y="774" width="15" height="17"/><text class="en" x="421.5" y="786">N1</text><rect class="t" x="429" y="774" width="20" height="17"/><text class="ec" x="439" y="787">2b</text><rect class="w" x="449" y="774" width="15" height="17"/><text class="ec" x="456.5" y="787">3</text><path class="w" d="M464,774 h13 l8,8.5 l-8,8.5 h-13 z"/><text class="ec" x="471" y="787">4</text>
<text class="slb" x="560" y="686" style="fill:#1c1cd6">S18</text>
<rect class="t" x="566" y="673" width="20" height="17"/><text class="ec" x="576" y="686">1c</text><rect class="w" x="586" y="673" width="20" height="17"/><text class="ec" x="596" y="686">2a</text><rect class="w" x="606" y="673" width="15" height="17"/><text class="ec" x="613.5" y="686">3</text><path class="w" d="M621,673 h13 l8,8.5 l-8,8.5 h-13 z"/><text class="ec" x="628" y="686">4</text>
<text class="slb" x="560" y="706" style="fill:#e5141a">S19</text>
<rect class="t" x="566" y="693" width="20" height="17"/><text class="ec" x="576" y="706">1c</text><rect class="t" x="586" y="693" width="20" height="17"/><text class="ec" x="596" y="706">2g</text><rect class="w" x="606" y="693" width="15" height="17"/><text class="ec" x="613.5" y="706">3</text><path class="w" d="M621,693 h13 l8,8.5 l-8,8.5 h-13 z"/><text class="ec" x="628" y="706">4</text>
<text class="sl" x="560" y="726">S20</text>
<rect class="t" x="566" y="713" width="20" height="17"/><text class="ec" x="576" y="726">1c</text><rect class="w" x="586" y="713" width="15" height="17"/><text class="ec" x="593.5" y="726">3</text><path class="w" d="M601,713 h13 l8,8.5 l-8,8.5 h-13 z"/><text class="ec" x="608" y="726">4</text>
<text class="slb" x="560" y="787" style="fill:#e5141a">S45</text>
<rect class="w" x="566" y="774" width="20" height="17"/><text class="ec" x="576" y="787">1a</text><rect class="t" x="586" y="774" width="20" height="17"/><text class="ec" x="596" y="787">2k</text><rect class="t" x="606" y="774" width="22" height="17"/><text class="ec" x="617" y="787">2i</text><rect class="w" x="628" y="774" width="15" height="17"/><text class="ec" x="635.5" y="787">3</text><path class="t" d="M643,774 h19 l8,8.5 l-8,8.5 h-19 z"/><text class="ec" x="653" y="787">4j</text>
<text class="slb" x="739" y="686" style="fill:#e5141a">S21</text>
<rect class="w" x="745" y="673" width="20" height="17"/><text class="ec" x="755" y="686">1a</text><rect class="w" x="765" y="673" width="20" height="17"/><text class="ec" x="775" y="686">2a</text><rect class="w" x="785" y="673" width="15" height="17"/><text class="ec" x="792.5" y="686">3</text><rect class="t" x="800" y="673" width="20" height="17"/><text class="en" x="810" y="685">N3a</text><path class="t" d="M820,673 h19 l8,8.5 l-8,8.5 h-19 z"/><text class="ec" x="830" y="686">4i</text>
<text class="sl" x="739" y="706">S22</text>
<rect class="w" x="745" y="693" width="20" height="17"/><text class="ec" x="755" y="706">1a</text><rect class="w" x="765" y="693" width="15" height="17"/><text class="ec" x="772.5" y="706">3</text><rect class="t" x="780" y="693" width="19" height="17"/><text class="ec" x="789.5" y="706">4b</text><path class="t" d="M799,693 h19 l8,8.5 l-8,8.5 h-19 z"/><text class="ec" x="809" y="706">4d</text>
<text class="sl" x="739" y="726">S23</text>
<rect class="w" x="745" y="713" width="20" height="17"/><text class="ec" x="755" y="726">1a</text><rect class="w" x="765" y="713" width="15" height="17"/><text class="ec" x="772.5" y="726">3</text><path class="t" d="M780,713 h19 l8,8.5 l-8,8.5 h-19 z"/><text class="ec" x="790" y="726">4i</text>
<text class="sl" x="739" y="746">S24</text>
<rect class="w" x="745" y="733" width="20" height="17"/><text class="ec" x="755" y="746">1a</text><path class="t" d="M765,733 h19 l8,8.5 l-8,8.5 h-19 z"/><text class="ec" x="775" y="746">4i</text>
<text class="sl" x="739" y="766">S25</text>
<rect class="w" x="745" y="753" width="20" height="17"/><text class="ec" x="755" y="766">1a</text><rect class="t" x="765" y="753" width="18" height="17"/><text class="ec" x="774" y="766">2b</text><rect class="t" x="783" y="753" width="20" height="17"/><text class="ec" x="793" y="766">2i</text><rect class="w" x="803" y="753" width="15" height="17"/><text class="ec" x="810.5" y="766">3</text><path class="t" d="M818,753 h19 l8,8.5 l-8,8.5 h-19 z"/><text class="ec" x="828" y="766">4i</text>
<text class="sl" x="739" y="787">S26</text>
<rect class="w" x="745" y="774" width="20" height="17"/><text class="ec" x="755" y="787">1a</text><rect class="t" x="765" y="774" width="18" height="17"/><text class="ec" x="774" y="787">2b</text><rect class="t" x="783" y="774" width="22" height="17"/><text class="ec" x="794" y="787">4f</text><path class="t" d="M805,774 h19 l8,8.5 l-8,8.5 h-19 z"/><text class="ec" x="815" y="787">4i</text>
<text class="sl" x="918" y="686">S27</text>
<rect class="w" x="924" y="673" width="20" height="17"/><text class="ec" x="934" y="686">1a</text><rect class="t" x="944" y="673" width="18" height="17"/><text class="ec" x="953" y="686">2b</text><path class="t" d="M962,673 h19 l8,8.5 l-8,8.5 h-19 z"/><text class="ec" x="972" y="686">4i</text>
<text class="slb" x="918" y="706" style="fill:#e5141a">S28</text>
<rect class="w" x="924" y="693" width="20" height="17"/><text class="ec" x="934" y="706">1a</text><rect class="t" x="944" y="693" width="18" height="17"/><text class="ec" x="953" y="706">2d</text><path class="t" d="M962,693 h19 l8,8.5 l-8,8.5 h-19 z"/><text class="ec" x="972" y="706">4g</text>
<text class="sl" x="918" y="726">S29</text>
<rect class="w" x="924" y="713" width="20" height="17"/><text class="ec" x="934" y="726">1a</text><rect class="t" x="944" y="713" width="18" height="17"/><text class="ec" x="953" y="726">2e</text><path class="t" d="M962,713 h19 l8,8.5 l-8,8.5 h-19 z"/><text class="ec" x="972" y="726">4h</text>
<text class="sl" x="918" y="746">S30</text>
<rect class="w" x="924" y="733" width="20" height="17"/><text class="ec" x="934" y="746">1a</text><rect class="t" x="944" y="733" width="20" height="17"/><text class="ec" x="954" y="746">2f</text><path class="t" d="M964,733 h19 l8,8.5 l-8,8.5 h-19 z"/><text class="ec" x="974" y="746">4e</text>
<text class="slb" x="918" y="766" style="fill:#e5141a">S31</text>
<rect class="t" x="924" y="753" width="20" height="17"/><text class="ec" x="934" y="766">1b</text><rect class="w" x="944" y="753" width="20" height="17"/><text class="ec" x="954" y="766">2a</text><rect class="w" x="964" y="753" width="15" height="17"/><text class="ec" x="971.5" y="766">3</text><rect class="t" x="979" y="753" width="22" height="17"/><text class="en" x="990" y="765">N3b</text><path class="t" d="M1001,753 h19 l8,8.5 l-8,8.5 h-19 z"/><text class="ec" x="1011" y="766">4i</text>
<text class="sl" x="918" y="787">S32</text>
<rect class="t" x="924" y="774" width="20" height="17"/><text class="ec" x="934" y="787">1b</text><rect class="t" x="944" y="774" width="18" height="17"/><text class="ec" x="953" y="787">2e</text><path class="t" d="M962,774 h19 l8,8.5 l-8,8.5 h-19 z"/><text class="ec" x="972" y="787">4h</text>
<text class="slb" x="1088" y="686" style="fill:#e5141a">S33</text>
<rect class="w" x="1094" y="673" width="20" height="17"/><text class="ec" x="1104" y="686">1a</text><rect class="w" x="1114" y="673" width="20" height="17"/><text class="ec" x="1124" y="686">2a</text><rect class="w" x="1134" y="673" width="15" height="17"/><text class="ec" x="1141.5" y="686">3</text><rect class="t" x="1149" y="673" width="15" height="17"/><text class="ec" x="1156.5" y="686">5</text>
<rect x="1062" y="693" width="28" height="17" fill="#000"/><text class="slb" x="1088" y="706" style="fill:#fff">S34</text>
<rect class="w" x="1094" y="693" width="20" height="17"/><text class="ec" x="1104" y="706">1a</text><rect class="w" x="1114" y="693" width="20" height="17"/><text class="ec" x="1124" y="706">2a</text><rect class="t" x="1134" y="693" width="15" height="17"/><text class="ec" x="1141.5" y="706">5</text>
<text class="sl" x="1088" y="726">S35</text>
<rect class="w" x="1094" y="713" width="20" height="17"/><text class="ec" x="1104" y="726">1a</text><rect class="w" x="1114" y="713" width="15" height="17"/><text class="ec" x="1121.5" y="726">3</text><rect class="t" x="1129" y="713" width="15" height="17"/><text class="ec" x="1136.5" y="726">5</text>
<text class="sl" x="1088" y="746">S36</text>
<rect class="w" x="1094" y="733" width="20" height="17"/><text class="ec" x="1104" y="746">1a</text><rect class="t" x="1114" y="733" width="22" height="17"/><text class="en" x="1125" y="745">N4a</text><rect class="t" x="1136" y="733" width="15" height="17"/><text class="ec" x="1143.5" y="746">5</text>
<text class="sl" x="1088" y="766">S37</text>
<rect class="w" x="1094" y="753" width="20" height="17"/><text class="ec" x="1104" y="766">1a</text><rect class="t" x="1114" y="753" width="22" height="17"/><text class="en" x="1125" y="765">N4b</text><rect class="t" x="1136" y="753" width="15" height="17"/><text class="ec" x="1143.5" y="766">5</text>
<text class="sl" x="1088" y="787">S38</text>
<rect class="w" x="1094" y="774" width="20" height="17"/><text class="ec" x="1104" y="787">1a</text><rect class="t" x="1114" y="774" width="15" height="17"/><text class="ec" x="1121.5" y="787">5</text>
<text class="slb" x="1231" y="686" style="fill:#e5141a">S39</text>
<rect class="t" x="1237" y="673" width="20" height="17"/><text class="ec" x="1247" y="686">1b</text><rect class="w" x="1257" y="673" width="20" height="17"/><text class="ec" x="1267" y="686">2a</text><rect class="w" x="1277" y="673" width="15" height="17"/><text class="ec" x="1284.5" y="686">3</text><rect class="t" x="1292" y="673" width="15" height="17"/><text class="ec" x="1299.5" y="686">5</text>
<text class="sl" x="1231" y="706">S40</text>
<rect class="t" x="1237" y="693" width="20" height="17"/><text class="ec" x="1247" y="706">1b</text><rect class="w" x="1257" y="693" width="15" height="17"/><text class="ec" x="1264.5" y="706">3</text><rect class="t" x="1272" y="693" width="15" height="17"/><text class="ec" x="1279.5" y="706">5</text>
<text class="slb" x="1231" y="726" style="fill:#e5141a">S41</text>
<rect class="t" x="1237" y="713" width="20" height="17"/><text class="ec" x="1247" y="726">1c</text><rect class="w" x="1257" y="713" width="20" height="17"/><text class="ec" x="1267" y="726">2a</text><rect class="w" x="1277" y="713" width="15" height="17"/><text class="ec" x="1284.5" y="726">3</text><rect class="t" x="1292" y="713" width="15" height="17"/><text class="ec" x="1299.5" y="726">5</text>
<text class="slb" x="1231" y="746" style="fill:#e5141a">S42</text>
<rect class="w" x="1237" y="733" width="20" height="17"/><text class="ec" x="1247" y="746">1a</text><rect class="w" x="1257" y="733" width="20" height="17"/><text class="ec" x="1267" y="746">2a</text><rect class="t" x="1277" y="733" width="20" height="17"/><text class="ec" x="1287" y="746">2k</text>
<text class="slb" x="1231" y="766" style="fill:#e5141a">S43</text>
<rect class="t" x="1237" y="753" width="20" height="17"/><text class="ec" x="1247" y="766">1b</text><rect class="w" x="1257" y="753" width="20" height="17"/><text class="ec" x="1267" y="766">2a</text><rect class="t" x="1277" y="753" width="20" height="17"/><text class="ec" x="1287" y="766">2k</text>
<text class="slb" x="1231" y="787" style="fill:#e5141a">S44</text>
<rect class="t" x="1237" y="774" width="20" height="17"/><text class="ec" x="1247" y="787">1c</text><rect class="w" x="1257" y="774" width="20" height="17"/><text class="ec" x="1267" y="787">2a</text><rect class="t" x="1277" y="774" width="20" height="17"/><text class="ec" x="1287" y="787">2k</text>
</g>

<!-- ================= PANEL C ================= -->
<text class="pl" x="9" y="840">C</text>
<g id="junctions">
<text x="54" y="852" font-size="12" font-weight="bold">E<tspan font-size="9">2</tspan></text>
<text x="71" y="852" font-size="12" font-weight="bold">E<tspan font-size="9">3</tspan></text>
<line x1="68" y1="838" x2="68" y2="860" stroke="#e5141a" stroke-width="1" stroke-dasharray="2 1.5"/>
<text x="727" y="852" font-size="12" font-weight="bold">E<tspan font-size="9">3</tspan></text>
<text x="747" y="852" font-size="12" font-weight="bold">E<tspan font-size="9">x</tspan></text>
<line x1="743.5" y1="838" x2="743.5" y2="860" stroke="#e5141a" stroke-width="1" stroke-dasharray="2 1.5"/>
</g>
<g id="sequences">
<text class="cl" x="48" y="866">S1</text>
<text class="seq" x="52" y="866">…<tspan class="b">GG</tspan>AGAACGCCCATATAAATGTGAACTTTGTCCTTACTCAAGTTCTCAGAAGACTCATCTAACTAGACATATGCGTACTCATTCA<tspan class="b">GG</tspan>TGAGAAGCCATTTAAATGTGATCAGTGCAGTTATGTGGCCTCTAATCAACATGAAGTAACCCGCCATGCA…</text>
<text class="aa" x="52" y="882" xml:space="preserve"> .G  E  R  P  <tspan class="b">Y  K  C  E  L  C  P  Y  S  S  S  Q  K  T  H  L  T  R  H  M  R  T  H  </tspan>S  G  E  K  P  F  K  C  D  Q  C  S  Y  V  A  S  N  Q  H  E  V  T  R  H  A .</text>
<line class="ubl" x1="60" y1="870" x2="76" y2="870"/><line class="ubl" x1="735.5" y1="870" x2="751.6" y2="870"/>

<text class="cl" x="48" y="899">S2</text>
<text class="seq" x="52" y="899">…<tspan class="b">GG</tspan>AGAACGCCCATATAAATGTGAACTTTGTCCTTACTCAAGTTCTCAGAAGACTCATCTAACTAGACATATGCGTACTCATTCA<tspan class="b">GC</tspan>CATT<tspan class="b">TAA</tspan>atgtgatcagtgcagttatgtggcctctaatcaacatgaagtaacccgccatgcaagacaggt…</text>
<text class="aa" x="52" y="915" xml:space="preserve"> .G  E  R  P  <tspan class="b">Y  K  C  E  L  C  P  Y  S  S  S  Q  K  T  H  L  T  R  H  M  R  T  H  </tspan>S  A  I  -</text>
<line class="ubl" x1="60" y1="903" x2="76" y2="903"/><line class="ubl" x1="735.5" y1="903" x2="751.6" y2="903"/><line class="url" x1="783.7" y1="903" x2="807.8" y2="903"/>

<text class="cl" x="48" y="930">S3</text>
<text class="seq" x="52" y="930">…<tspan class="b">GG</tspan>AGAACGCCCATATAAATGTGAACTTTGTCCTTACTCAAGTTCTCAGAAGACTCATCTAACTAGACATATGCGTACTCATTCA<tspan class="b">GT</tspan>GGGGTATGGATACCATTTGGTAATATTTACTAGAGTG<tspan class="b">TGA</tspan>tctagatg<tspan class="b">GG</tspan>tgagaagccatttaaatgtg…</text>
<text class="aa" x="52" y="946" xml:space="preserve"> .G  E  R  P  <tspan class="b">Y  K  C  E  L  C  P  Y  S  S  S  Q  K  T  H  L  T  R  H  M  R  T  H  </tspan>S  V  G  Y  G  Y  H  L  V  I  F  T  R  V  - <tspan style="fill:#222">(<tspan class="b">REST4</tspan>)</tspan></text>
<text class="aa" x="1322" y="946" text-anchor="end" style="fill:#333">(Identical to <tspan class="b">S12</tspan>)</text>
<line class="ubl" x1="60" y1="934" x2="76" y2="934"/><line class="ubl" x1="735.5" y1="934" x2="751.6" y2="934"/><line class="url" x1="1049.1" y1="934" x2="1073.2" y2="934"/><line class="ubl" x1="1137.5" y1="934" x2="1153.6" y2="934"/>

<text class="cl" x="48" y="962">S21</text>
<text class="seq" x="52" y="962">…<tspan class="b">GG</tspan>AGAACGCCCATATAAATGTGAACTTTGTCCTTACTCAAGTTCTCAGAAGACTCATCTAACTAGACATATGCGTACTCATTCA<tspan class="b">GA</tspan>GATGGAGTTTCGCTCTTGTTGCCCAGGCTGGAATAAAATGGTG<tspan class="b">TGA</tspan>…caacctcccaagtagctgggatt…</text>
<text class="aa" x="52" y="978" xml:space="preserve"> .G  E  R  P  <tspan class="b">Y  K  C  E  L  C  P  Y  S  S  S  Q  K  T  H  L  T  R  H  M  R  T  H  </tspan>S  E  M  E  F  R  S  C  C  P  G  W  N  K  M  V  -</text>
<line class="ubl" x1="60" y1="966" x2="76" y2="966"/><line class="ubl" x1="735.5" y1="966" x2="751.6" y2="966"/><line class="url" x1="1097.3" y1="966" x2="1121.4" y2="966"/>

<text class="cl" x="48" y="994">S31</text>
<text class="seq" x="52" y="994">…<tspan class="b">GG</tspan>AGAACGCCCATATAAATGTGAACTTTGTCCTTACTCAAGTTCTCAGAAGACTCATCTAACTAGACATATGCGTACTCATTCA<tspan class="b">GG</tspan>CTGGAATAAAATGGTG<tspan class="b">TGA</tspan>tcgcagctcactgcaacctccgtctcccaggttcaagcgattctcctgcct…</text>
<text class="aa" x="52" y="1010" xml:space="preserve"> .G  E  R  P  <tspan class="b">Y  K  C  E  L  C  P  Y  S  S  S  Q  K  T  H  L  T  R  H  M  R  T  H  </tspan>S  G  W  N  K  M  V  -</text>
<line class="ubl" x1="60" y1="998" x2="76" y2="998"/><line class="ubl" x1="735.5" y1="998" x2="751.6" y2="998"/><line class="url" x1="880.2" y1="998" x2="904.3" y2="998"/>

<text class="cl" x="48" y="1026">S33</text>
<text class="seq" x="52" y="1026">…<tspan class="b">GG</tspan>AGAACGCCCATATAAATGTGAACTTTGTCCTTACTCAAGTTCTCAGAAGACTCATCTAACTAGACATATGCGTACTCATTCA<tspan class="b">GA</tspan>GCGTCTGCCCTGTCCAAGGAGG<tspan class="b">TGA</tspan>tatgcacagggaggatgttggaagccacgactgtaaaccaagctg…</text>
<text class="aa" x="52" y="1042" xml:space="preserve"> .G  E  R  P  <tspan class="b">Y  K  C  E  L  C  P  Y  S  S  S  Q  K  T  H  L  T  R  H  M  R  T  H  </tspan>S  E  R  L  P  C  P  R  R  -</text>
<text class="aa" x="1322" y="1042" text-anchor="end" style="fill:#333">(Identical to <tspan class="b">S39</tspan> and <tspan class="b">S41</tspan>)</text>
<line class="ubl" x1="60" y1="1030" x2="76" y2="1030"/><line class="ubl" x1="735.5" y1="1030" x2="751.6" y2="1030"/><line class="url" x1="928.5" y1="1030" x2="952.6" y2="1030"/>

<text class="cl" x="48" y="1056">S42</text>
<text class="seq" x="52" y="1056">…GGTAAGAGAAGCTTTCTAGTCCATAAGTTCAGTTCTCTTTTC<tspan class="b">TGA</tspan>ttgttacttgagtggttagttaagtagtgcttgagaaaaaggactctggttcaaatccaggttccatttgctatctttgtgaccttgcacaagttgtttaacctctttgt…</text>
<text class="aa" x="52" y="1071" xml:space="preserve"> .G  K  R  S  F  L  V  H  K  F  S  S  L  F  - <tspan style="fill:#222">(<tspan class="b">REST1</tspan>)</tspan></text>
<text class="aa" x="1322" y="1071" text-anchor="end" style="fill:#333">(Identical to <tspan class="b">S43</tspan> and <tspan class="b">S44</tspan>)</text>
<line class="url" x1="397.8" y1="1060" x2="421.9" y2="1060"/>
</g>
</svg>
